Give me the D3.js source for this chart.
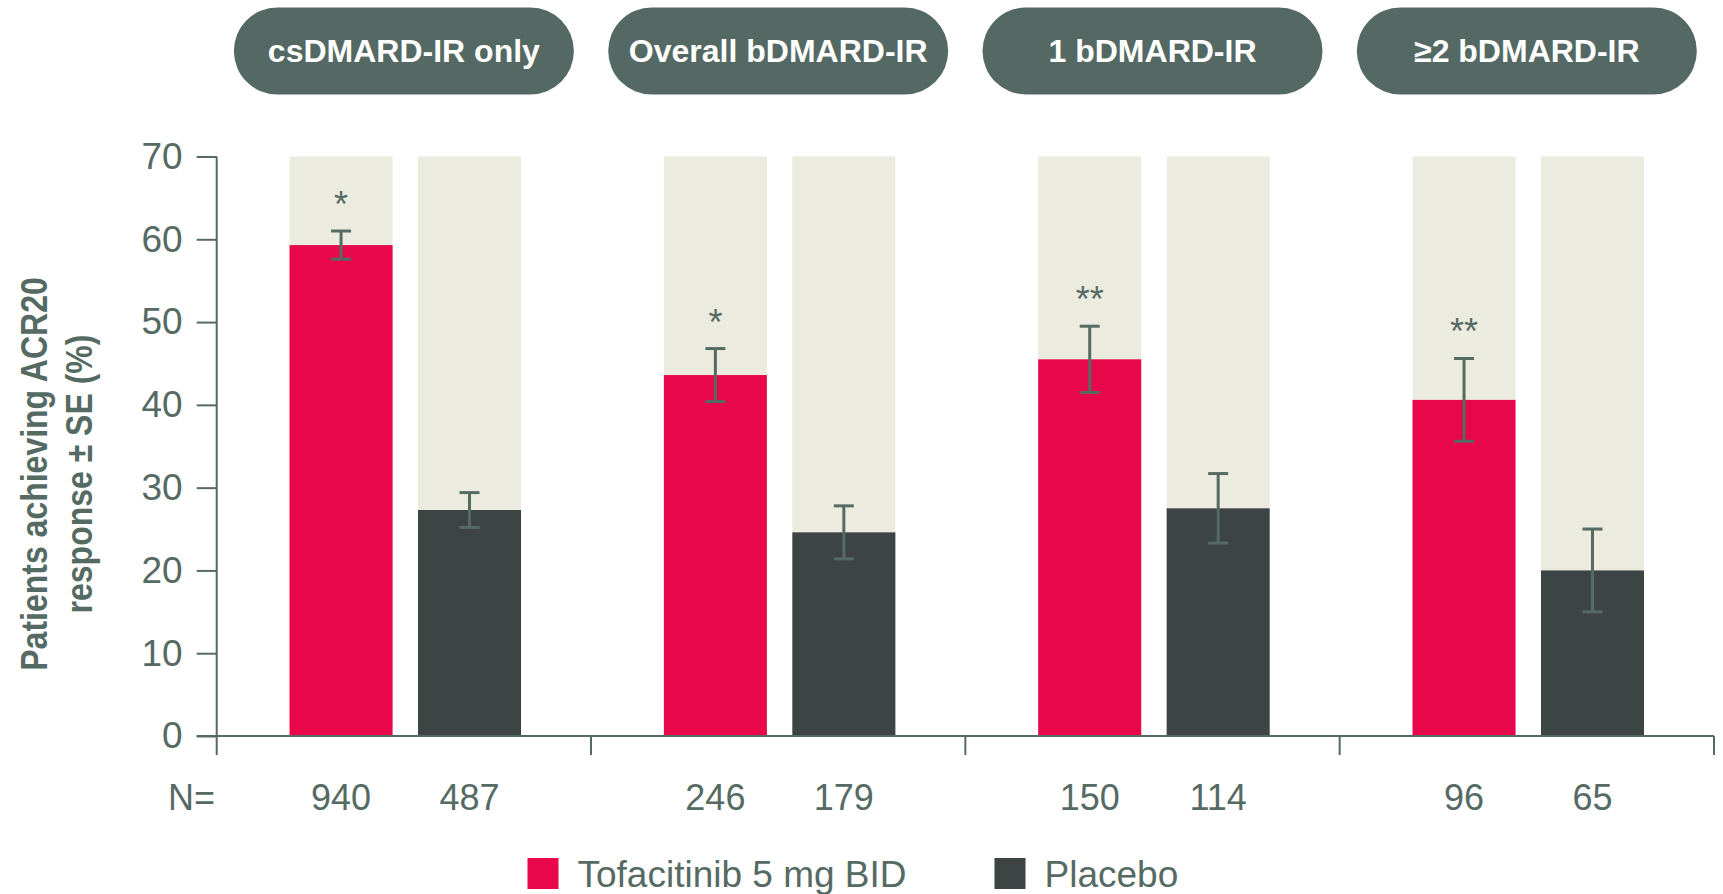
<!DOCTYPE html>
<html>
<head>
<meta charset="utf-8">
<script src="https://cdn.jsdelivr.net/npm/d3@7"></script>
<style>
  body { margin: 0; background: #fff; }
  svg { display: block; font-family: "Liberation Sans", Arial, sans-serif; }
</style>
</head>
<body>
<div id="chart"></div>
<script>
// data
var groups = ["csDMARD-IR only", "Overall bDMARD-IR", "1 bDMARD-IR", "\u22652 bDMARD-IR"];
var series = ["Tofacitinib 5 mg BID", "Placebo"];
var tofaValues = [59.3, 43.6, 45.5, 40.6];
var tofaSE = [1.7, 3.2, 4.0, 5.0];
var placeboValues = [27.3, 24.6, 27.5, 20.0];
var placeboSE = [2.1, 3.2, 4.2, 5.0];
var tofaN = [940, 246, 150, 96];
var placeboN = [487, 179, 114, 65];
var signif = ["*", "*", "**", "**"];
var yTicks = [0, 10, 20, 30, 40, 50, 60, 70];

var colors = { "Tofacitinib 5 mg BID": "#e8074b", "Placebo": "#3d4444" };
var ink = "#566a64";

var W = 1723, H = 894;
var svg = d3.select("#chart").append("svg")
    .attr("width", W)
    .attr("height", H);

// scales
var y = d3.scaleLinear().domain([0, 70]).range([736, 156.5]);
var x0 = d3.scaleBand().domain(groups).range([216.7, 1714]).padding(0);
var x1 = d3.scaleBand().domain(series).range([0, x0.bandwidth()])
    .paddingInner(0.198).paddingOuter(0.556).align(0.51);

// one row per bar
var rows = [];
groups.forEach(function(g, i) {
    rows.push({ group: g, s: series[0], v: tofaValues[i], se: tofaSE[i], n: tofaN[i] });
    rows.push({ group: g, s: series[1], v: placeboValues[i], se: placeboSE[i], n: placeboN[i] });
});
function bx(d) { return x0(d.group) + x1(d.s); }
function cx(d) { return bx(d) + x1.bandwidth() / 2; }

// background columns
svg.append("g").selectAll("rect")
    .data(rows).enter().append("rect")
    .attr("x", bx)
    .attr("y", y(70))
    .attr("width", x1.bandwidth())
    .attr("height", y(0) - y(70))
    .attr("fill", "#ecebdf");

// bars
svg.append("g").selectAll("rect")
    .data(rows).enter().append("rect")
    .attr("x", bx)
    .attr("y", function(d) { return y(d.v); })
    .attr("width", x1.bandwidth())
    .attr("height", function(d) { return y(0) - y(d.v); })
    .attr("fill", function(d) { return colors[d.s]; });

// error bars
var eb = svg.append("g").attr("stroke", ink).attr("stroke-width", 3).attr("fill", "none");
rows.forEach(function(d) {
    var c = cx(d), top = y(d.v + d.se), bot = y(d.v - d.se);
    eb.append("line").attr("x1", c).attr("x2", c).attr("y1", top).attr("y2", bot);
    eb.append("line").attr("x1", c - 10).attr("x2", c + 10).attr("y1", top).attr("y2", top);
    eb.append("line").attr("x1", c - 10).attr("x2", c + 10).attr("y1", bot).attr("y2", bot);
});

// significance stars
svg.append("g").selectAll("text")
    .data(rows.filter(function(d) { return d.s === series[0]; })).enter().append("text")
    .attr("x", cx)
    .attr("y", function(d) { return y(d.v + d.se) - 14; })
    .attr("text-anchor", "middle")
    .attr("fill", ink)
    .style("font-size", "36px")
    .text(function(d, i) { return signif[i]; });

// y axis
var yAxis = svg.append("g")
    .attr("transform", "translate(216.7,0)")
    .call(d3.axisLeft(y).tickValues(yTicks).tickSize(20).tickPadding(14));
yAxis.select(".domain").remove();
yAxis.selectAll("line").attr("stroke", ink).attr("stroke-width", 2);
yAxis.selectAll("text")
    .attr("fill", ink)
    .style("font-size", "37px")
    .style("font-family", '"Liberation Sans", Arial, sans-serif');

var axisG = svg.append("g").attr("stroke", ink).attr("stroke-width", 2);
axisG.append("line").attr("x1", 216.7).attr("x2", 216.7).attr("y1", y(70)).attr("y2", 755);
axisG.append("line").attr("x1", 196.7).attr("x2", 1714).attr("y1", y(0)).attr("y2", y(0));
groups.forEach(function(g) {
    var xr = x0(g) + x0.bandwidth();
    axisG.append("line").attr("x1", xr).attr("x2", xr).attr("y1", y(0)).attr("y2", 755);
});

// y title
var title = svg.append("text")
    .attr("transform", "translate(47,474) rotate(-90) scale(1,1.15)")
    .attr("text-anchor", "middle")
    .attr("fill", ink)
    .style("font-size", "32px")
    .style("font-weight", "bold");
title.append("tspan").attr("x", 0).attr("y", 0).text("Patients achieving ACR20");
title.append("tspan").attr("x", 0).attr("y", 39).text("response \u00b1 SE (%)");

// group header pills
var pills = svg.append("g").selectAll("g")
    .data(groups).enter().append("g")
    .attr("transform", function(g) { return "translate(" + (x0(g) + x0.bandwidth() / 2) + ",0)"; });
pills.append("rect")
    .attr("x", -170).attr("y", 7.5)
    .attr("width", 340).attr("height", 87)
    .attr("rx", 43.5)
    .attr("fill", "#546963");
pills.append("text")
    .attr("y", 62)
    .attr("text-anchor", "middle")
    .attr("fill", "#fff")
    .style("font-size", "32px")
    .style("font-weight", "bold")
    .text(function(g) { return g; });

// N row
svg.append("text")
    .attr("x", 215).attr("y", 810)
    .attr("text-anchor", "end")
    .attr("fill", ink)
    .style("font-size", "36px")
    .text("N=");
svg.append("g").selectAll("text")
    .data(rows).enter().append("text")
    .attr("x", cx)
    .attr("y", 810)
    .attr("text-anchor", "middle")
    .attr("fill", ink)
    .style("font-size", "36px")
    .text(function(d) { return d.n; });

// legend
var legendX = [527.5, 994.5];
var lg = svg.append("g").selectAll("g")
    .data(series).enter().append("g")
    .attr("transform", function(s, i) { return "translate(" + legendX[i] + ",858)"; });
lg.append("rect")
    .attr("width", 31).attr("height", 31)
    .attr("fill", function(s) { return colors[s]; });
lg.append("text")
    .attr("x", 50).attr("y", 29)
    .attr("fill", ink)
    .style("font-size", "37px")
    .text(function(s) { return s; });
</script>
</body>
</html>
